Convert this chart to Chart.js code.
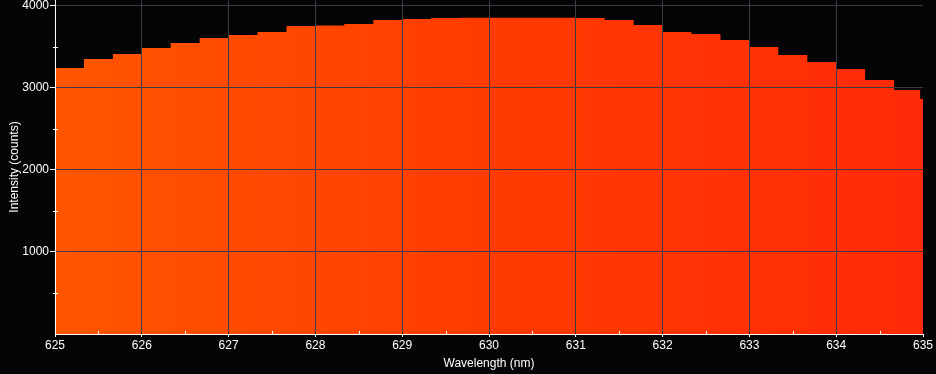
<!DOCTYPE html>
<html>
<head>
<meta charset="utf-8">
<script src="https://cdn.jsdelivr.net/npm/chart.js@4"></script>
<style>
  html, body { margin: 0; padding: 0; background: #050508; }
  canvas { display: block; }
</style>
</head>
<body>
<canvas id="spectrum" width="936" height="374"></canvas>
<script>
// spectrum data (nm / counts)
const wavelengths = [625.000, 625.333, 625.667, 626.000, 626.333, 626.667, 627.000, 627.333, 627.667, 628.000,
                     628.333, 628.667, 629.000, 629.333, 629.667, 630.000, 630.333, 630.667, 631.000, 631.333,
                     631.667, 632.000, 632.333, 632.667, 633.000, 633.333, 633.667, 634.000, 634.333, 634.667,
                     634.967, 635.000];
const counts = [3244, 3354, 3415, 3488, 3549, 3610, 3646, 3683, 3756, 3762,
                3780, 3829, 3841, 3852, 3856, 3858, 3858, 3856, 3852, 3829,
                3768, 3683, 3659, 3585, 3500, 3402, 3317, 3232, 3098, 2976,
                2866, 2866];

const xTicks = [625, 625.5, 626, 626.5, 627, 627.5, 628, 628.5, 629, 629.5, 630,
                630.5, 631, 631.5, 632, 632.5, 633, 633.5, 634, 634.5, 635];
const yTicks = [0, 500, 1000, 1500, 2000, 2500, 3000, 3500, 4000];

const isMajor = v => Math.abs(v - Math.round(v)) < 1e-6;

// ==== gradient fill ====
function spectrumFill(ctx) {
    const area = ctx.chart.chartArea;
    if (!area) return "#ff4000";
    const g = ctx.chart.ctx.createLinearGradient(area.left, 0, area.right, 0);
    g.addColorStop(0, "#ff5600");
    g.addColorStop(0.5, "#ff3b00");
    g.addColorStop(1, "#ff2a08");
    return g;
}

// ==== minor tick marks, drawn across the axis line ====
const minorTicks = {
    id: "minorTicks",
    afterDraw(chart) {
        const c = chart.ctx;
        const xs = chart.scales.x, ys = chart.scales.y;
        c.save();
        c.strokeStyle = "#ffffff";
        c.lineWidth = 1;
        c.beginPath();
        xTicks.forEach(v => {
            if (isMajor(v)) return;
            const px = Math.round(xs.getPixelForValue(v)) + 0.5;
            c.moveTo(px, ys.bottom - 3);
            c.lineTo(px, ys.bottom + 1);
        });
        yTicks.forEach(v => {
            if (v % 1000 === 0) return;
            const py = Math.round(ys.getPixelForValue(v)) + 0.5;
            c.moveTo(xs.left - 2, py);
            c.lineTo(xs.left + 3, py);
        });
        c.stroke();
        c.restore();
    }
};

const font = { family: "'Liberation Sans', Arial, sans-serif", size: 12 };

new Chart(document.getElementById("spectrum"), {
    type: "line",
    data: {
        datasets: [{
            data: wavelengths.map((w, i) => ({ x: w, y: counts[i] })),
            stepped: "before",
            fill: "origin",
            backgroundColor: spectrumFill,
            borderWidth: 0,
            pointRadius: 0
        }]
    },
    options: {
        responsive: false,
        animation: false,
        layout: { padding: { left: 0, right: 13, top: 0, bottom: 0 } },
        plugins: { legend: { display: false }, tooltip: { enabled: false } },
        scales: {
            x: {
                type: "linear",
                min: 625,
                max: 635,
                afterBuildTicks: s => { s.ticks = xTicks.map(v => ({ value: v })); },
                afterFit: s => { s.height = 40; s.paddingLeft = 0; s.paddingRight = 0; },
                ticks: {
                    color: "#ffffff",
                    font: font,
                    padding: 1,
                    maxRotation: 0,
                    autoSkip: false,
                    callback: v => isMajor(v) ? String(Math.round(v)) : ""
                },
                grid: {
                    z: 1,
                    color: c => (c.tick && isMajor(c.tick.value) && c.tick.value > 625 && c.tick.value < 635) ? "#3b3b40" : "rgba(0,0,0,0)",
                    tickColor: c => (c.tick && isMajor(c.tick.value)) ? "#ffffff" : "rgba(0,0,0,0)",
                    tickLength: 3
                },
                border: { color: "#ffffff", width: 1, z: 1 },
                title: {
                    display: true,
                    text: "Wavelength (nm)",
                    color: "#ffffff",
                    font: font,
                    padding: { top: 0, bottom: 3 }
                }
            },
            y: {
                min: 0,
                max: 4073,
                afterBuildTicks: s => { s.ticks = yTicks.map(v => ({ value: v })); },
                afterFit: s => { s.width = 55; s.paddingTop = 0; s.paddingBottom = 0; },
                ticks: {
                    color: "#ffffff",
                    font: font,
                    padding: 1,
                    includeBounds: false,
                    callback: v => (v > 0 && v % 1000 === 0) ? String(v) : ""
                },
                grid: {
                    z: 1,
                    color: c => (c.tick && c.tick.value > 0 && c.tick.value % 1000 === 0) ? "#3b3b40" : "rgba(0,0,0,0)",
                    tickColor: c => (c.tick && c.tick.value > 0 && c.tick.value % 1000 === 0) ? "#ffffff" : "rgba(0,0,0,0)",
                    tickLength: 5
                },
                border: { color: "#ffffff", width: 1, z: 1 },
                title: {
                    display: true,
                    text: "Intensity (counts)",
                    color: "#ffffff",
                    font: font,
                    padding: { top: 7, bottom: 0 }
                }
            }
        }
    },
    plugins: [minorTicks]
});
</script>
</body>
</html>
